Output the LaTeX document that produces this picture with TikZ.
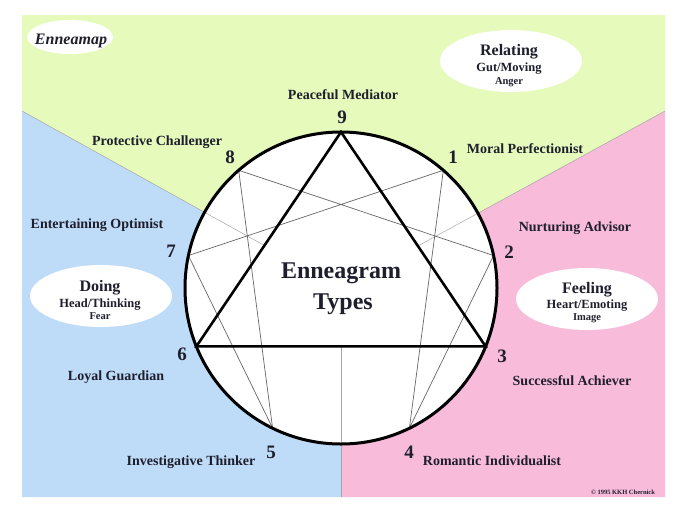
\documentclass[tikz,border=0pt]{standalone}
\usepackage{fontspec}
\setmainfont{Liberation Serif}
\usetikzlibrary{shapes.geometric,calc}
\definecolor{grn}{RGB}{229,250,187}
\definecolor{blu}{RGB}{190,220,248}
\definecolor{pnk}{RGB}{248,187,218}
\definecolor{ink}{RGB}{30,30,45}
\begin{document}
\begin{tikzpicture}[x=1pt,y=-1pt,
  lbl/.style={font=\bfseries\fontsize{14}{14}\selectfont, text=ink, inner sep=0, text height=9.3pt, text depth=0pt},
  num/.style={font=\bfseries\fontsize{19}{19}\selectfont, text=ink, inner sep=0, text height=12.8pt, text depth=0pt},
  big/.style={font=\bfseries\fontsize{16}{16}\selectfont, text=ink, inner sep=0, text height=10.6pt, text depth=0pt},
  mid/.style={font=\bfseries\fontsize{12.5}{12.5}\selectfont, text=ink, inner sep=0, text height=8.3pt, text depth=0pt},
  sml/.style={font=\bfseries\fontsize{10.5}{10.5}\selectfont, text=ink, inner sep=0, text height=7pt, text depth=0pt},
  title/.style={font=\bfseries\fontsize{24}{24}\selectfont, text=ink, inner sep=0, text height=15.9pt, text depth=0pt},
  oval/.style={ellipse, fill=white, draw=none, inner sep=0},
  divider/.style={gray!70, line width=0.5pt},
  hexad/.style={black!60, line width=0.7pt},
  tri/.style={black, line width=2.6pt, line join=miter},
]
\useasboundingbox (0,0) rectangle (685,512);
\fill[white] (0,0) rectangle (685,512);
% frame corners and divider ends
\coordinate (O) at (341,288);
\coordinate (L) at (22,111);
\coordinate (R) at (665,111);
\coordinate (B) at (341,497);
% sectors
\fill[grn] (22,15) -- (665,15) -- (R) -- (O) -- (L) -- cycle;
\fill[blu] (L) -- (O) -- (B) -- (22,497) -- cycle;
\fill[pnk] (R) -- (O) -- (B) -- (665,497) -- cycle;
% circle
\fill[white] (O) circle (156);
% points
\path (O) ++(-90:156) coordinate (p9);
\path (O) ++(-49:156) coordinate (p1);
\path (O) ++(-12:156) coordinate (p2);
\path (O) ++(22:156) coordinate (p3);
\path (O) ++(64:156) coordinate (p4);
\path (O) ++(116:156) coordinate (p5);
\path (O) ++(158:156) coordinate (p6);
\path (O) ++(-168:156) coordinate (p7);
\path (O) ++(-131:156) coordinate (p8);
% divider ends on triangle
\coordinate (iL) at (intersection of L--O and p9--p6);
\coordinate (iR) at (intersection of R--O and p9--p3);
\coordinate (iB) at (intersection of B--O and p6--p3);
\draw[divider] (L) -- (iL);
\draw[divider] (R) -- (iR);
\draw[divider] (B) -- (iB);
% hexad
\draw[hexad] (p1) -- (p4) -- (p2) -- (p8) -- (p5) -- (p7) -- cycle;
% triangle
\draw[tri] (p9) -- (p6) -- (p3) -- cycle;
% circle outline
\draw[black, line width=3pt] (O) circle (156);
% ovals
\node[oval, minimum width=86, minimum height=34] (ovmap) at (70,37) {};
\node[oval, minimum width=142, minimum height=62] (ovrel) at (511,61) {};
\node[oval, minimum width=142, minimum height=62] (ovdo) at (101,296) {};
\node[oval, minimum width=142, minimum height=62] (ovfeel) at (587,299) {};
% oval texts
\node[font=\bfseries\itshape\fontsize{16}{16}\selectfont, text=ink, inner sep=0, text height=10.6pt, text depth=0pt] (tmap) at (71,39) {Enneamap};
\node[big] (trel1) at (509,50) {Relating};
\node[mid] (trel2) at (509,67) {Gut/Moving};
\node[sml] (trel3) at (509,81) {Anger};
\node[big] (tdo1) at (100,286) {Doing};
\node[mid] (tdo2) at (100,303) {Head/Thinking};
\node[sml] (tdo3) at (100,316) {Fear};
\node[big] (tfe1) at (587,288) {Feeling};
\node[mid] (tfe2) at (587,304.5) {Heart/Emoting};
\node[sml] (tfe3) at (587,317) {Image};
% centre title
\node[title] (tt1) at (341,271) {Enneagram};
\node[title] (tt2) at (343,302) {Types};
% numbers
\node[num] (n9) at (342,117) {9};
\node[num] (n1) at (453,157) {1};
\node[num] (n2) at (509,252) {2};
\node[num] (n3) at (502,356) {3};
\node[num] (n4) at (409,452) {4};
\node[num] (n5) at (271,452) {5};
\node[num] (n6) at (182,354) {6};
\node[num] (n7) at (171,251) {7};
\node[num] (n8) at (230,157) {8};
% labels
\node[lbl] (l9) at (343,95) {Peaceful Mediator};
\node[lbl] (l8) at (157,141) {Protective Challenger};
\node[lbl] (l1) at (525,149) {Moral Perfectionist};
\node[lbl] (l2) at (575,227) {Nurturing Advisor};
\node[lbl] (l7) at (97,224) {Entertaining Optimist};
\node[lbl] (l6) at (116,376) {Loyal Guardian};
\node[lbl] (l3) at (572,381) {Successful Achiever};
\node[lbl] (l5) at (191,461) {Investigative Thinker};
\node[lbl] (l4) at (492,461) {Romantic Individualist};
% copyright
\node[font=\bfseries\fontsize{6.5}{6.5}\selectfont, text=ink, inner sep=0, text height=4.3pt, text depth=0pt] (copy) at (623,492) {© 1995 KKH Chernick};
\end{tikzpicture}
\end{document}
